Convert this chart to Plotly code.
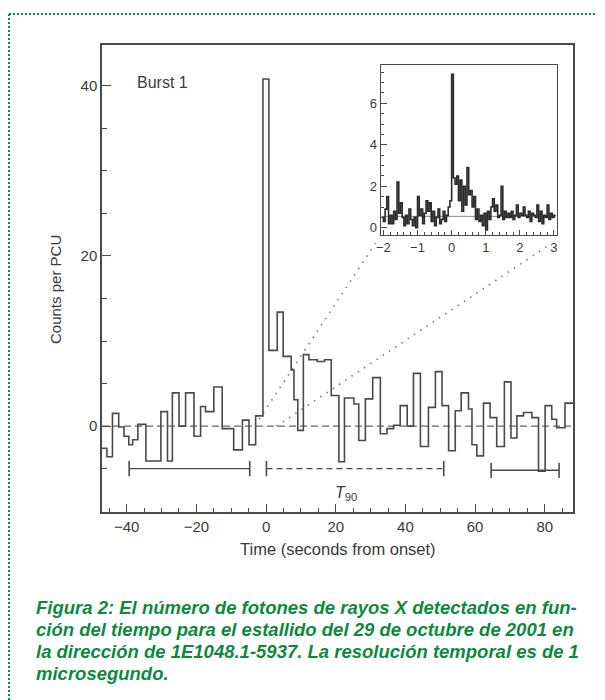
import plotly.graph_objects as go

# ---------------- main light curve (Burst 1) ----------------
bin_edges = [-47.1, -45.7, -44.1, -42.3, -40.8, -39.4, -38.3, -36.8, -34.5, -30.2,
             -28.3, -26.9, -25.0, -23.1, -20.7, -18.8, -17.4, -15.0, -12.6, -9.3,
             -6.8, -4.9, -3.0, -0.9, 0.8, 3.2, 4.9, 7.2, 8.0, 9.1,
             10.7, 12.3, 14.7, 16.8, 18.7, 20.9, 22.5, 25.2, 26.6, 28.5,
             30.6, 32.8, 34.7, 36.6, 38.5, 40.5, 42.3, 44.3, 46.6, 48.6,
             50.5, 52.4, 54.3, 56.0, 58.1, 59.1, 60.5, 62.4, 64.3, 66.2,
             68.4, 70.3, 72.0, 73.9, 76.3, 78.2, 80.1, 82.0, 83.4, 85.8, 88.1]
counts = [-2.6, -3.6, 1.5, -0.1, -1.2, -2.2, -1.6, 0.2, -4.1, 1.7,
          -4.1, 3.9, 0.0, 3.9, -1.2, 2.3, 1.7, 4.6, -0.3, -2.8,
          0.7, -2.2, 1.2, 40.8, 8.9, 13.4, 8.2, 6.6, 3.1, -0.5,
          8.4, 7.8, 7.6, 7.8, 3.6, -4.2, 3.3, 2.6, -1.7, 3.2,
          5.7, -0.9, -0.3, 0.1, 2.4, 0.0, 6.2, -2.4, 2.2, 6.4,
          2.4, -2.9, 1.8, 3.9, 2.0, -2.2, -3.5, 2.7, 1.0, -2.4,
          5.2, -1.4, 1.2, 1.6, 1.0, -5.3, 2.4, 0.8, -0.2, 2.7]

# interval bars: (start, end, level)
pre_interval = (-39.3, -4.7, -5.0)
t90_interval = (0.1, 51.0, -5.0)
post_interval = (64.6, 84.1, -5.2)

# ---------------- inset (zoom on -2 .. 3 s) ----------------
inset_start = -2.05
inset_binwidth = 0.05
inset_counts = [0.5, 0.3, 0.9, 1.5, 0.2, 0.6, 0.2, 0.8, 0.4, 2.2,
                0.7, 1.2, 0.5, 0.1, 0.6, 0.2, 0.9, 0.4, 0.1, 0.5,
                0.0, 1.5, 0.6, 0.9, 0.2, 0.7, 1.3, 0.8, 1.2, 0.3,
                0.8, 0.1, 0.5, 0.9, 0.2, 0.4, 0.8, 0.3, 0.6, 1.0,
                1.3, 7.4, 2.4, 2.1, 2.5, 1.3, 2.3, 0.8, 2.0, 1.1,
                2.9, 1.6, 1.8, 1.0, 1.5, 0.4, 0.9, 0.3, 0.6, 0.1,
                0.7, -0.1, 0.8, 0.4, 1.0, 1.4, 0.8, 1.1, 0.5, 0.6,
                2.0, 0.4, 0.8, 0.5, 0.7, 0.5, 0.8, 0.4, 0.6, 1.1,
                0.5, 0.7, 0.6, 1.0, 0.6, 0.5, 0.8, 0.3, 0.7, 0.6,
                0.5, 1.1, 0.3, 0.8, 0.2, 0.6, 0.5, 1.1, 0.4, 0.7,
                0.5, 0.6]
inset_mean = 0.55

# zoom guide (dotted) lines in main-axis data coordinates
guide_a = ([-2.0, 31.4], [0.8, 21.5])
guide_b = ([3.0, 80.9], [0.0, 21.2])

caption_lines = [
    "Figura 2: El número de fotones de rayos X detectados en fun-",
    "ción del tiempo para el estallido del 29 de octubre de 2001 en",
    "la dirección de 1E1048.1-5937. La resolución temporal es de 1",
    "microsegundo.",
]

INK = "#4a4a4a"
TXT = "#3a3a3a"
GREEN = "#0b8a3e"
FONT = "Liberation Sans"

fig = go.Figure()

# zero reference line (dashed)
fig.add_trace(go.Scatter(x=[bin_edges[0], bin_edges[-1]], y=[0, 0], mode="lines",
                         line=dict(color="#666666", width=1.2, dash="7px,4px"),
                         hoverinfo="skip"))

# dotted guide lines
for gx, gy in (guide_a, guide_b):
    fig.add_trace(go.Scatter(x=gx, y=gy, mode="lines",
                             line=dict(color="#777777", width=1.6, dash="1.5px,6px"),
                             hoverinfo="skip"))

# step light curve
fig.add_trace(go.Scatter(x=bin_edges, y=counts + [counts[-1]], mode="lines",
                         line=dict(color=INK, width=1.6, shape="hv")))

# interval bars with end caps
def bar(interval, dash):
    a, b, lev = interval
    cap = 0.9
    fig.add_trace(go.Scatter(x=[a, b], y=[lev, lev], mode="lines",
                             line=dict(color=INK, width=1.4, dash=dash), hoverinfo="skip"))
    fig.add_trace(go.Scatter(x=[a, a, None, b, b], y=[lev - cap, lev + cap, None, lev - cap, lev + cap],
                             mode="lines", line=dict(color=INK, width=1.6), hoverinfo="skip"))

bar(pre_interval, "solid")
bar(t90_interval, "6px,4px")
bar(post_interval, "solid")

# inset step curve
inset_edges = [round(inset_start + inset_binwidth * i, 3) for i in range(len(inset_counts) + 1)]
fig.add_trace(go.Scatter(x=[inset_edges[0], inset_edges[-1]], y=[inset_mean, inset_mean],
                         mode="lines", line=dict(color="#888888", width=1),
                         xaxis="x2", yaxis="y2", hoverinfo="skip"))
fig.add_trace(go.Scatter(x=inset_edges, y=inset_counts + [inset_counts[-1]], mode="lines",
                         line=dict(color="#2a2a2a", width=1.6, shape="hv"),
                         xaxis="x2", yaxis="y2"))

axis_common = dict(showline=True, linecolor=INK, linewidth=1.5, mirror=True,
                   showgrid=False, zeroline=False, ticks="inside",
                   tickcolor=INK, tickfont=dict(family=FONT, size=15, color=TXT))

fig.update_layout(
    width=597, height=692,
    margin=dict(l=94, r=32, t=37, b=188),
    paper_bgcolor="white", plot_bgcolor="white",
    showlegend=False,
    font=dict(family=FONT, color=TXT),
    xaxis=dict(range=[-47.1, 88.1], dtick=20, tick0=0, ticklen=8, tickwidth=1.3,
               minor=dict(dtick=5, ticks="inside", ticklen=4, tickcolor=INK),
               **axis_common),
    yaxis=dict(range=[-10.1, 44.8], dtick=20, tick0=0, ticklen=9, tickwidth=1.3,
               minor=dict(dtick=5, ticks="inside", ticklen=5, tickcolor=INK),
               **axis_common),
    xaxis2=dict(domain=[0.5917, 0.9654], anchor="y2", range=[-2.08, 3.08], dtick=1, tick0=0,
                ticklen=5, minor=dict(dtick=0.2, ticks="inside", ticklen=3, tickcolor=INK),
                **{**axis_common, "linewidth": 1.2,
                   "tickfont": dict(family=FONT, size=13, color=TXT)}),
    yaxis2=dict(domain=[0.5931, 0.9572], anchor="x2", range=[-0.35, 7.85], dtick=2, tick0=0,
                ticklen=6, minor=dict(dtick=0.5, ticks="inside", ticklen=3, tickcolor=INK),
                **{**axis_common, "linewidth": 1.2,
                   "tickfont": dict(family=FONT, size=13, color=TXT)}),
)

# helpers: page pixel -> paper coordinates (page has an 8px body offset)
px = lambda X: (X - 102) / 471
py = lambda Y: (512 - Y) / 467

annotations = [
    dict(text="Burst 1", x=-37.6, y=40.4, xref="x", yref="y", xanchor="left",
         yanchor="middle", showarrow=False, font=dict(family=FONT, size=16, color=TXT)),
    dict(text="<i>T</i><sub>90</sub>", x=23.0, y=-7.9, xref="x", yref="y",
         showarrow=False, font=dict(family=FONT, size=16, color=TXT)),
    dict(text="Counts per PCU", x=px(55), y=py(290), xref="paper", yref="paper",
         xanchor="center", yanchor="middle", textangle=-90, showarrow=False,
         font=dict(family=FONT, size=15, color=TXT)),
    dict(text="Time (seconds from onset)", x=px(338), y=py(549), xref="paper", yref="paper",
         xanchor="center", yanchor="middle", showarrow=False,
         font=dict(family=FONT, size=16.5, color=TXT)),
]
for i, line in enumerate(caption_lines):
    annotations.append(dict(text=f"<b><i>{line}</i></b>", x=px(34),
                            y=py(607 + 22 * i), xref="paper", yref="paper",
                            xanchor="left", yanchor="middle", showarrow=False,
                            font=dict(family=FONT, size=18.5, color=GREEN)))
fig.update_layout(annotations=annotations)

# green dotted page border (top and left)
fig.add_shape(type="line", xref="paper", yref="paper", x0=px(9), x1=px(610), y0=py(14), y1=py(14),
              line=dict(color=GREEN, width=2, dash="2px,2px"))
fig.add_shape(type="line", xref="paper", yref="paper", x0=px(9), x1=px(9), y0=py(14), y1=py(705),
              line=dict(color=GREEN, width=2, dash="2px,2px"))

fig.write_html("out.html")
